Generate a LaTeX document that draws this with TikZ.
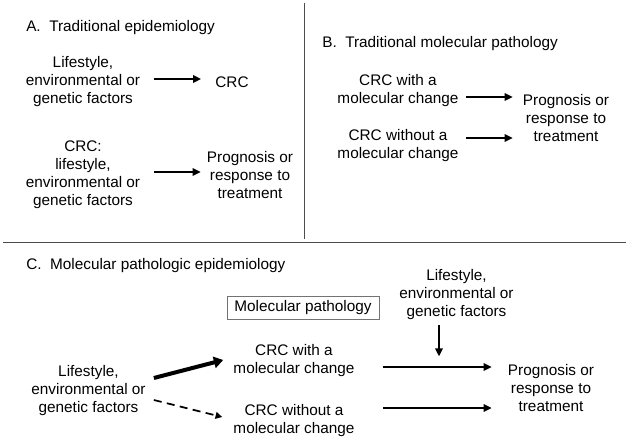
\documentclass[tikz,border=0pt]{standalone}
\usepackage{fontspec}
\setmainfont{Liberation Sans}
\usetikzlibrary{arrows.meta,calc}

\tikzset{
  txt/.style={align=center, inner sep=0pt, font=\fontsize{11.5}{13.5}\selectfont},
  head/.style={anchor=west, inner sep=0pt, font=\fontsize{11.5}{13.5}\selectfont},
  arr/.style={line width=1.5pt, -{Triangle[length=6pt,width=5.5pt]}},
  bigarr/.style={line width=3pt, -{Triangle[length=7pt,width=8.5pt]}},
  dasharr/.style={line width=1.3pt, dash pattern=on 6pt off 4pt, -{Triangle[length=5pt,width=5pt]}},
  rule/.style={draw=black!70, line width=0.75pt},
  mpbox/.style={txt, draw=black!55, line width=0.6pt, minimum width=114pt, minimum height=17.25pt},
}

\begin{document}
\begin{tikzpicture}[x=0.75pt,y=-0.75pt]
\useasboundingbox (0,0) rectangle (630,442);

\draw[rule] (304,3) -- (304,239);
\draw[rule] (3,242) -- (626,242);

\node[head] (hA) at (26,28) {A.\ \ Traditional epidemiology};
\node[txt] (a1) at (83,82) {Lifestyle,\\environmental or\\genetic factors};
\node[txt] (crcA) at (232,82) {CRC};
\node[txt] (a2) at (83,175) {CRC:\\lifestyle,\\environmental or\\genetic factors};
\node[txt] (progA) at (250,175) {Prognosis or\\response to\\treatment};
\draw[arr] ($(a1.east)+(14,-3)$) -- ($(crcA.west)+(-14,-3)$);
\draw[arr] ($(a2.east)+(14,-3)$) -- ($(progA.west)+(-6,-3)$);

\node[head] (hB) at (322,44) {B.\ \ Traditional molecular pathology};
\node[txt] (b1) at (398,91) {CRC with a\\molecular change};
\node[txt] (b2) at (398,146) {CRC without a\\molecular change};
\node[txt] (progB) at (566,118) {Prognosis or\\response to\\treatment};
\draw[arr] ($(b1.east)+(7,6)$) -- ($(progB.west)+(-10,-21)$);
\draw[arr] ($(b2.east)+(7,-8)$) -- ($(progB.west)+(-10,20)$);

\node[head] (hC) at (26,266) {C.\ \ Molecular pathologic epidemiology};
\node[mpbox] (mp) at (303,307.5) {Molecular pathology};
\node[txt] (lt) at (456.5,295) {Lifestyle,\\environmental or\\genetic factors};
\node[txt] (cl) at (88.5,391) {Lifestyle,\\environmental or\\genetic factors};
\node[txt] (cw) at (294,361) {CRC with a\\molecular change};
\node[txt] (cwo) at (294,421) {CRC without a\\molecular change};
\node[txt] (progC) at (551,388) {Prognosis or\\response to\\treatment};
\draw[bigarr] ($(cl.east)+(8,-13)$) -- ($(cw.west)+(-10,-1)$);
\draw[dasharr] ($(cl.east)+(8,9)$) -- ($(cwo.west)+(-11,-4)$);
\draw[arr] ($(cw.east)+(28,6)$) -- ($(progC.west)+(-16,-21)$);
\draw[arr] ($(cwo.east)+(28,-13)$) -- ($(progC.west)+(-16,20)$);
\draw[arr] ($(lt.south)+(-17.5,5)$) -- ++(0,31);
\end{tikzpicture}
\end{document}
